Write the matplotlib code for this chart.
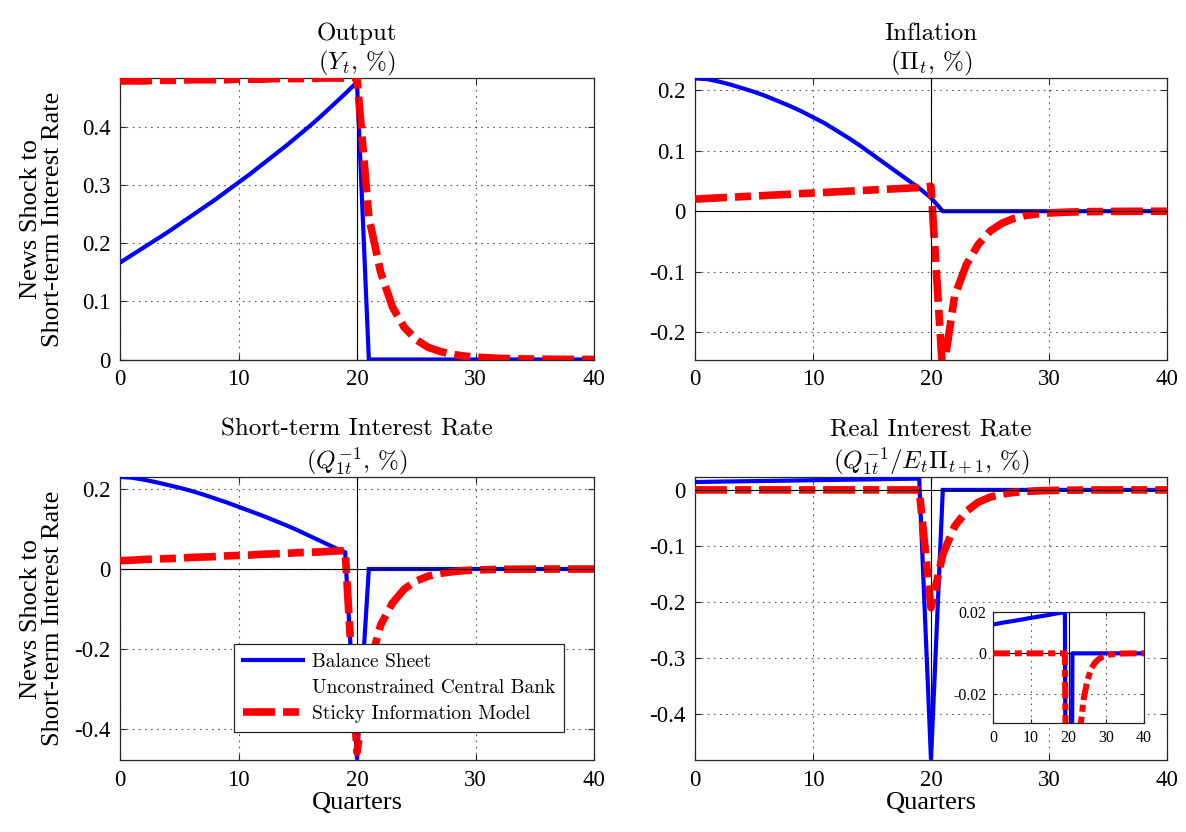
import numpy as np
import matplotlib
matplotlib.use('Agg')
import matplotlib.pyplot as plt
from matplotlib.lines import Line2D
from matplotlib.ticker import FuncFormatter
import warnings
warnings.filterwarnings('ignore')

# ---------------- data ----------------
quarters = np.arange(0, 41)

output_bs = [0.167, 0.180, 0.193, 0.206, 0.219, 0.233, 0.247, 0.261, 0.275, 0.290,
             0.305, 0.320, 0.336, 0.352, 0.368, 0.385, 0.402, 0.420, 0.439, 0.458,
             0.478, 0.0, 0.0, 0.0, 0.0, 0.0, 0.0, 0.0, 0.0, 0.0,
             0.0, 0.0, 0.0, 0.0, 0.0, 0.0, 0.0, 0.0, 0.0, 0.0, 0.0]
output_si = [0.480, 0.480, 0.480, 0.481, 0.481, 0.481, 0.482, 0.482, 0.482, 0.482,
             0.483, 0.483, 0.483, 0.484, 0.484, 0.484, 0.484, 0.485, 0.485, 0.485,
             0.4855, 0.245, 0.150, 0.090, 0.055, 0.034, 0.021, 0.014, 0.009, 0.006,
             0.004, 0.003, 0.002, 0.0015, 0.001, 0.0007, 0.0005, 0.0003, 0.0002, 0.0002, 0.0001]

infl_bs = [0.219, 0.218, 0.214, 0.209, 0.203, 0.197, 0.190, 0.182, 0.174, 0.165,
           0.155, 0.145, 0.133, 0.121, 0.108, 0.094, 0.080, 0.066, 0.052, 0.038,
           0.022, 0.0, 0.0, 0.0, 0.0, 0.0, 0.0, 0.0, 0.0, 0.0,
           0.0, 0.0, 0.0, 0.0, 0.0, 0.0, 0.0, 0.0, 0.0, 0.0, 0.0]
infl_si = [0.020, 0.021, 0.022, 0.023, 0.024, 0.025, 0.026, 0.027, 0.028, 0.029,
           0.030, 0.031, 0.032, 0.033, 0.034, 0.035, 0.036, 0.037, 0.038, 0.039,
           0.041, -0.27, -0.14, -0.088, -0.055, -0.033, -0.020, -0.012, -0.007, -0.0045,
           -0.003, -0.002, -0.0013, -0.0009, -0.0006, -0.0004, -0.0003, -0.0002, -0.0001, -0.0001, -0.0001]

rate_bs = [0.231, 0.229, 0.224, 0.218, 0.211, 0.204, 0.196, 0.187, 0.177, 0.167,
           0.156, 0.145, 0.134, 0.122, 0.110, 0.097, 0.083, 0.069, 0.055, 0.042,
           -0.478, 0.0, 0.0, 0.0, 0.0, 0.0, 0.0, 0.0, 0.0, 0.0,
           0.0, 0.0, 0.0, 0.0, 0.0, 0.0, 0.0, 0.0, 0.0, 0.0, 0.0]
rate_si = [0.021, 0.022, 0.024, 0.025, 0.026, 0.027, 0.029, 0.030, 0.031, 0.033,
           0.034, 0.035, 0.037, 0.038, 0.039, 0.041, 0.042, 0.043, 0.045, 0.046,
           -0.46, -0.25, -0.14, -0.085, -0.050, -0.030, -0.018, -0.011, -0.007, -0.004,
           -0.0025, -0.0015, -0.001, -0.0006, -0.0004, -0.0003, -0.0002, -0.0001, -0.0001, -0.0001, -0.0001]

real_bs = [0.0141, 0.0144, 0.0148, 0.0151, 0.0154, 0.0157, 0.0160, 0.0163, 0.0166, 0.0170,
           0.0173, 0.0176, 0.0179, 0.0182, 0.0185, 0.0188, 0.0192, 0.0195, 0.0198, 0.0202,
           -0.481, 0.0, 0.0, 0.0, 0.0, 0.0, 0.0, 0.0, 0.0, 0.0,
           0.0, 0.0, 0.0, 0.0, 0.0, 0.0, 0.0, 0.0, 0.0, 0.0, 0.0]
real_si = [0.0, 0.0, 0.0, 0.0, 0.0, 0.0, 0.0, 0.0, 0.0, 0.0,
           0.0, 0.0, 0.0, 0.0, 0.0, 0.0, 0.0, 0.0, 0.0, 0.0,
           -0.21, -0.115, -0.065, -0.038, -0.022, -0.013, -0.0075, -0.0045, -0.0028, -0.0017,
           -0.001, -0.0006, -0.0004, -0.0002, -0.0001, -0.0001, 0.0, 0.0, 0.0, 0.0, 0.0]

titles = ["Output\n($Y_t$, %)",
          "Inflation\n($\\Pi_t$, %)",
          "Short-term Interest Rate\n($Q_{1t}^{-1}$, %)",
          "Real Interest Rate\n($Q_{1t}^{-1}/E_t\\Pi_{t+1}$, %)"]
ylabel_text = "News Shock to\nShort-term Interest Rate"
xlabel_text = "Quarters"
legend_labels = ["Balance Sheet", "Unconstrained Central Bank", "Sticky Information Model"]

xticks = [0, 10, 20, 30, 40]
yticks_list = [[0, 0.1, 0.2, 0.3, 0.4],
               [-0.2, -0.1, 0, 0.1, 0.2],
               [-0.4, -0.2, 0, 0.2],
               [-0.4, -0.3, -0.2, -0.1, 0]]
ylims = [(0, 0.4845), (-0.2447, 0.2193), (-0.479, 0.230), (-0.4815, 0.0225)]
inset_yticks = [-0.02, 0, 0.02]
inset_ylim = (-0.0341, 0.0203)

# ---------------- style ----------------
plt.rcParams.update({
    'font.family': 'serif',
    'font.serif': ['Liberation Serif', 'DejaVu Serif'],
    'mathtext.fontset': 'cm',
    'axes.unicode_minus': False,
    'lines.scale_dashes': False,
    'xtick.direction': 'in', 'ytick.direction': 'in',
    'xtick.top': True, 'ytick.right': True,
})
CM = 'cmr10'

BLUE = (0, 0, 1)
RED = (1, 0, 0)
red_dash = [23, 5.8, 11.5, 5.8]
fmt = FuncFormatter(lambda v, p: '%g' % round(v, 6))

fig = plt.figure(figsize=(11.86, 8.32), dpi=100)
W, H = 1186.0, 832.0

def rect(x0, x1, y0, y1):
    return [x0 / W, 1 - y1 / H, (x1 - x0) / W, (y1 - y0) / H]

positions = [rect(120, 594, 78.3, 359.5), rect(695, 1167, 78.3, 359.5),
             rect(120, 594, 477.3, 760), rect(695, 1167, 477.3, 760)]
series = [(output_bs, output_si), (infl_bs, infl_si), (rate_bs, rate_si), (real_bs, real_si)]


def style_axes(ax, fs):
    ax.grid(True, linestyle=(0, (1.2, 3.2)), color='0.35', linewidth=0.8)
    for s in ax.spines.values():
        s.set_linewidth(0.9)
        s.set_color('0.15')
    ax.tick_params(labelsize=fs, length=4, width=0.8, color='0.15', pad=7)
    ax.yaxis.set_major_formatter(fmt)
    ax.xaxis.set_major_formatter(fmt)


axes = []
for i in range(4):
    ax = fig.add_axes(positions[i])
    bs, si = series[i]
    ax.plot(quarters, bs, color=BLUE, lw=3.0, zorder=3, solid_joinstyle='miter')
    ax.plot(quarters, si, color=RED, lw=5.5, dashes=red_dash, dash_capstyle='butt', zorder=3)
    ax.axvline(20, color='black', lw=0.8, zorder=5)
    ax.axhline(0, color='black', lw=0.8, zorder=5)
    ax.set_xlim(0, 40)
    ax.set_ylim(*ylims[i])
    ax.set_xticks(xticks)
    ax.set_yticks(yticks_list[i])
    style_axes(ax, 16.5)
    ax.set_title(titles[i], fontsize=18, pad=5, linespacing=1.22, family=CM)
    if i in (0, 2):
        ax.set_ylabel(ylabel_text, fontsize=19, linespacing=1.0)
        ax.yaxis.set_label_coords(-0.118, 0.5)
    if i in (2, 3):
        ax.set_xlabel(xlabel_text, fontsize=19, labelpad=1)
    axes.append(ax)

# legend in the short-term interest rate panel
handles = [Line2D([], [], color=BLUE, lw=3.0),
           Line2D([], [], color='none', lw=0),
           Line2D([], [], color=RED, lw=5.5, dashes=red_dash, dash_capstyle='butt')]
leg = axes[2].legend(handles, legend_labels, loc='lower left', bbox_to_anchor=(0.2405, 0.1),
                     borderaxespad=0, prop={'family': CM, 'size': 14}, frameon=True, fancybox=False,
                     edgecolor='0.15', framealpha=1, handlelength=3.1, handletextpad=0.45,
                     labelspacing=0.42, borderpad=0.45)
leg.get_frame().set_linewidth(0.9)
leg.set_zorder(10)

# inset in the real interest rate panel
axi = fig.add_axes(rect(993.3, 1144, 611.7, 723.3))
axi.plot(quarters, real_bs, color=BLUE, lw=3.0, zorder=3)
axi.plot(quarters, real_si, color=RED, lw=4.3, dashes=[12, 3.5, 5, 3.5], dash_capstyle='butt', zorder=3)
axi.axvline(20, color='black', lw=0.8, zorder=2)
axi.axhline(0, color='black', lw=0.8, zorder=2)
axi.set_xlim(0, 40)
axi.set_ylim(*inset_ylim)
axi.set_xticks(xticks)
axi.set_yticks(inset_yticks)
style_axes(axi, 11.5)
axi.tick_params(length=3, pad=5)
axi.set_facecolor('white')

fig.savefig('out.png', dpi=100)
